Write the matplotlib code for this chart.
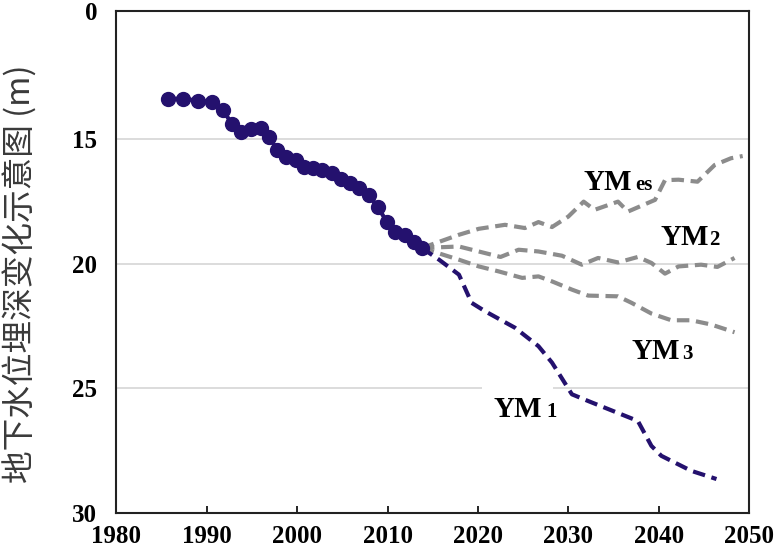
import numpy as np
import matplotlib
matplotlib.use("Agg")
import matplotlib.pyplot as plt

# observed groundwater depth (m)
obs_years = [1985.7, 1987.4, 1989.0, 1990.6, 1991.8, 1992.8, 1993.8, 1994.9, 1996.0,
             1996.9, 1997.8, 1998.8, 1999.9, 2000.8, 2001.7, 2002.8, 2003.8, 2004.8,
             2005.8, 2006.8, 2007.9, 2008.9, 2009.9, 2010.8, 2011.9, 2012.9, 2013.8]
obs_depth = [13.38, 13.38, 13.46, 13.51, 13.84, 14.41, 14.71, 14.61, 14.57,
             14.91, 15.44, 15.71, 15.84, 16.13, 16.17, 16.24, 16.37, 16.61,
             16.77, 16.97, 17.24, 17.71, 18.31, 18.71, 18.84, 19.11, 19.37]

# scenarios
ym1_years = [2013.8, 2015.7, 2017.9, 2019.3, 2020.8, 2024.1, 2026.7, 2028.2,
             2030.4, 2032.2, 2037.7, 2039.2, 2040.3, 2043.6, 2046.4]
ym1_depth = [19.37, 19.84, 20.44, 21.57, 21.91, 22.57, 23.31, 23.97,
             25.24, 25.51, 26.31, 27.31, 27.71, 28.31, 28.64]

yme_years = [2013.8, 2017.9, 2020.1, 2023.0, 2025.2, 2026.7, 2028.2, 2030.0, 2031.7,
             2032.9, 2035.5, 2036.6, 2039.6, 2040.7, 2042.2, 2044.3, 2046.2, 2048.0, 2049.3]
yme_depth = [19.37, 18.84, 18.60, 18.44, 18.57, 18.33, 18.53, 18.11, 17.51,
             17.84, 17.51, 17.91, 17.44, 16.65, 16.63, 16.71, 16.04, 15.77, 15.68]

ym2_years = [2013.8, 2017.9, 2022.5, 2024.5, 2026.7, 2029.3, 2031.5, 2033.3,
             2035.5, 2037.7, 2039.2, 2040.7, 2042.2, 2044.7, 2046.5, 2048.4]
ym2_depth = [19.37, 19.31, 19.73, 19.44, 19.51, 19.68, 20.04, 19.77,
             19.95, 19.73, 19.97, 20.40, 20.11, 20.04, 20.13, 19.77]

ym3_years = [2013.8, 2017.9, 2020.1, 2022.3, 2024.9, 2026.7, 2028.2, 2030.4,
             2032.2, 2035.5, 2037.0, 2039.2, 2041.4, 2043.6, 2045.8, 2048.4]
ym3_depth = [19.37, 19.84, 20.11, 20.31, 20.57, 20.51, 20.71, 21.04,
             21.28, 21.31, 21.57, 22.00, 22.27, 22.27, 22.44, 22.75]

x_ticks = [1980, 1990, 2000, 2010, 2020, 2030, 2040, 2050]
y_ticks = [9.86, 15, 20, 25, 30]
y_ticklabels = ["0", "15", "20", "25", "30"]

navy = "#24116e"
grey = "#8c8c8c"
serif = "Liberation Serif"

fig = plt.figure(figsize=(7.79, 5.48), dpi=100)
ax = fig.add_axes([0.1495, 0.064, 0.812, 0.916])

for g in [15, 20, 25]:
    ax.axhline(g, color="#d9d9d9", lw=1.3, zorder=1)

dash = (0, (3, 1.6))
ax.plot(yme_years, yme_depth, color=grey, lw=3, ls=dash, zorder=3)
ax.plot(ym2_years, ym2_depth, color=grey, lw=3, ls=dash, zorder=3)
ax.plot(ym3_years, ym3_depth, color=grey, lw=3, ls=dash, zorder=3)
ax.plot(ym1_years, ym1_depth, color=navy, lw=3, ls=dash, zorder=4)
ax.plot(obs_years, obs_depth, color=navy, lw=3, marker="o", ms=10, zorder=5)

lab = dict(family=serif, weight="bold", color="black", fontsize=21, zorder=7)
sub = dict(family=serif, weight="bold", color="black", fontsize=15, zorder=8)
ax.text(2031.7, 17.04, "YM", **lab)
ax.text(2037.4, 17.04, "es", **sub)
ax.text(2040.2, 19.24, "YM", **lab)
ax.text(2045.6, 19.24, "2", **sub)
ax.text(2037.0, 23.84, "YM", **lab)
ax.text(2042.6, 23.84, "3", **sub)
ax.text(2021.7, 26.17, "YM", bbox=dict(boxstyle="square,pad=0.4", fc="white", ec="none"), **lab)
ax.text(2027.6, 26.17, "1", **sub)

ax.set_xlim(1980, 2050)
ax.set_ylim(30, 9.86)
ax.set_xticks(x_ticks)
ax.set_xticklabels([str(t) for t in x_ticks])
ax.set_yticks(y_ticks)
ax.set_yticklabels(y_ticklabels)
ax.tick_params(axis="x", direction="in", length=5, width=1.2, pad=9)
ax.tick_params(axis="y", length=0, pad=14)
for t in ax.get_xticklabels() + ax.get_yticklabels():
    t.set_fontfamily(serif)
    t.set_fontweight("bold")
    t.set_fontsize(18)
for s in ax.spines.values():
    s.set_linewidth(1.5)
    s.set_color("#222222")

fig.text(0.026, 0.5, "地下水位埋深变化示意图 (m)", rotation=90, ha="center", va="center",
         fontsize=23.5, color="#3a3a3a", family=["Noto Sans CJK SC", "DejaVu Sans"])

fig.savefig("out.png", dpi=100)
